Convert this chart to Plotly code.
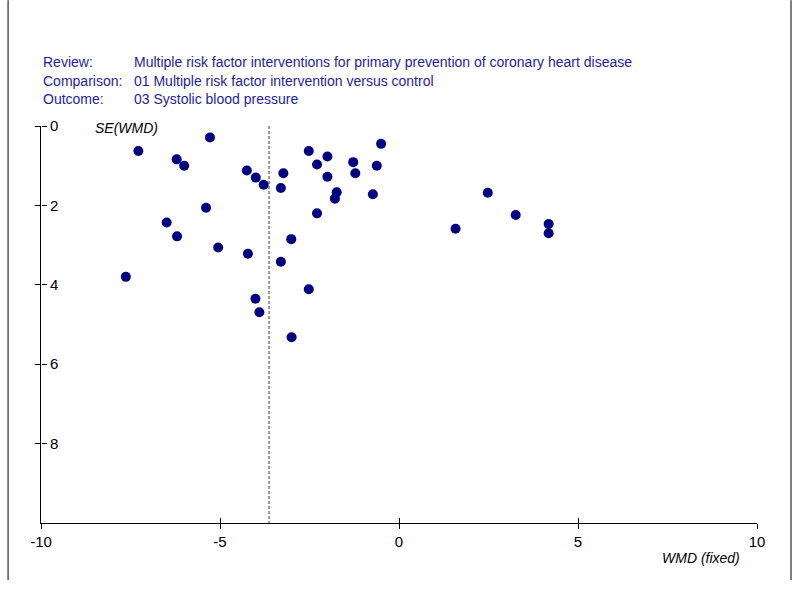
import plotly.graph_objects as go

# Funnel plot data: weighted mean difference vs its standard error
wmd = [-5.28, -7.28, -6.21, -6.00, -4.25, -4.00, -3.78, -5.39, -6.49, -6.20,
       -5.05, -4.22, -7.63, -4.01, -3.90, -3.23, -3.30, -2.52, -2.29, -2.00,
       -2.00, -1.74, -1.79, -1.28, -1.22, -0.50, -0.62, -0.73, -2.29, -3.01,
       -3.30, -2.52, 2.48, 3.26, 1.58, 4.18, 4.18, -3.00]
se_wmd = [0.29, 0.63, 0.84, 1.00, 1.12, 1.30, 1.48, 2.06, 2.43, 2.78,
          3.06, 3.22, 3.80, 4.35, 4.69, 1.19, 1.56, 0.63, 0.97, 0.77,
          1.28, 1.67, 1.83, 0.91, 1.19, 0.45, 1.00, 1.72, 2.20, 2.85,
          3.42, 4.11, 1.68, 2.24, 2.59, 2.47, 2.70, 5.32]
pooled_wmd = -3.63
se_max = 10
x_ticks = [-10, -5, 0, 5, 10]
x_tick_labels = ["-10", "-5", "0", "5", "10"]
y_ticks = [0, 2, 4, 6, 8]
y_tick_labels = ["0", "2", "4", "6", "8"]

header_labels = ["Review:", "Comparison:", "Outcome:"]
header_values = ["Multiple risk factor interventions for primary prevention of coronary heart disease",
                 "01 Multiple risk factor intervention versus control",
                 "03 Systolic blood pressure"]

font = "Liberation Sans, Arial, sans-serif"
blue = "#1e1e9c"

fig = go.Figure()

# pooled estimate line
fig.add_trace(go.Scatter(x=[pooled_wmd, pooled_wmd], y=[0, se_max], mode="lines",
                         line=dict(color="#666666", width=1.3, dash="3px,2px"),
                         hoverinfo="skip", showlegend=False))

fig.add_trace(go.Scatter(x=wmd, y=se_wmd, mode="markers",
                         marker=dict(color="#000080", size=10, line=dict(width=0)),
                         showlegend=False))

# invisible trace on overlay axes so the crossing ticks and right-hand labels get drawn
fig.add_trace(go.Scatter(x=[0], y=[0], xaxis="x2", yaxis="y2", mode="markers",
                         marker=dict(opacity=0), hoverinfo="skip", showlegend=False))

tick_font = dict(family=font, size=15, color="black")
base = dict(showgrid=False, zeroline=False, automargin=False, tickcolor="black",
            ticklen=5, tickwidth=1, tickfont=tick_font)

fig.update_layout(
    template="none",
    width=800, height=591,
    margin=dict(l=41, r=43, t=126, b=68),
    paper_bgcolor="white", plot_bgcolor="white",
    font=dict(family=font, size=14, color="black"),
    xaxis=dict(range=[-10, 10], tickvals=x_ticks, ticktext=x_tick_labels, ticks="outside",
               showline=True, linecolor="black", linewidth=1, **base),
    yaxis=dict(range=[se_max, 0], tickvals=y_ticks, ticks="outside", showline=True,
               linecolor="black", linewidth=1, showticklabels=False, **base),
    xaxis2=dict(range=[-10, 10], tickvals=x_ticks, ticks="inside", overlaying="x",
                anchor="y", showticklabels=False, showline=False, **base),
    yaxis2=dict(range=[se_max, 0], tickvals=y_ticks, ticktext=y_tick_labels, ticks="outside",
                overlaying="y", side="right", anchor="free", position=0,
                showticklabels=True, showline=False, **base),
)

# header block
for i, (lab, val) in enumerate(zip(header_labels, header_values)):
    yy = 1.162 - i * 0.0475
    fig.add_annotation(x=0.0, y=yy, xref="paper", yref="paper", text=lab, showarrow=False,
                       xanchor="left", yanchor="middle", font=dict(family=font, size=14, color=blue))
    fig.add_annotation(x=0.1267, y=yy, xref="paper", yref="paper", text=val, showarrow=False,
                       xanchor="left", yanchor="middle", font=dict(family=font, size=14, color=blue))

# axis titles
fig.add_annotation(x=0.0726, y=0.995, xref="paper", yref="paper", text="<i>SE(WMD)</i>",
                   showarrow=False, xanchor="left", yanchor="middle",
                   font=dict(family=font, size=14, color="black"))
fig.add_annotation(x=0.979, y=-0.088, xref="paper", yref="paper", text="<i>WMD (fixed)</i>",
                   showarrow=False, xanchor="right", yanchor="middle",
                   font=dict(family=font, size=14, color="black"))

# frame lines at left and right
for xp in [-0.046, 1.0475]:
    fig.add_shape(type="line", xref="paper", yref="paper", x0=xp, x1=xp, y0=1.317, y1=-0.1436,
                  line=dict(color="black", width=1))

# drop the default page margin so the figure sits at the window's corner
fig.write_html("out.html", config={"displayModeBar": False},
               post_script="document.body.style.margin='0';")
